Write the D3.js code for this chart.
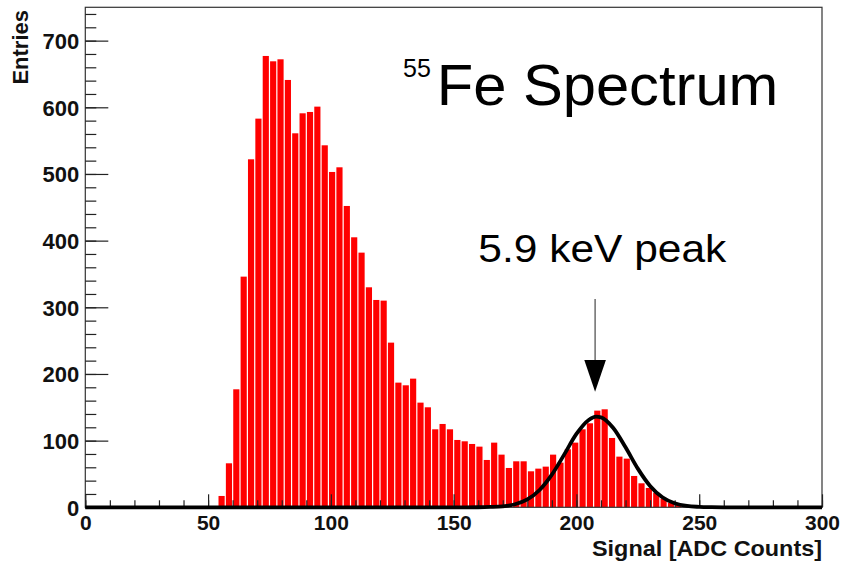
<!DOCTYPE html>
<html>
<head>
<meta charset="utf-8">
<script src="https://cdn.jsdelivr.net/npm/d3@7"></script>
<style>
  body { margin: 0; background: #fff; }
  text { font-family: "Liberation Sans", Arial, Helvetica, sans-serif; }
</style>
</head>
<body>
<script>
// histogram: 3 ADC counts per bin, first filled bin starts at 54
const binWidth = 3;
const firstBin = 54;
const counts = [17, 66, 177, 346, 522, 583, 677, 669, 672, 641, 561, 591, 593, 601, 543, 503,
    510, 452, 405, 382, 330, 311, 310, 247, 187, 183, 193, 157, 150, 117, 125, 117,
    101, 99, 95, 91, 71, 97, 79, 59, 69, 69, 54, 58, 61, 79, 67, 87, 97, 117, 126,
    145, 147, 104, 76, 73, 47, 36, 29, 22, 13, 7, 4, 1];

// gaussian fit
const fitX = [0, 150, 160, 165, 170, 175, 180, 185, 190, 195, 200, 205, 208, 210, 215, 220, 225, 230, 235, 240, 245, 250, 255, 260, 300];
const fitY = [0, 0, 0.1, 0.5, 1.5, 4.6, 11.8, 26, 49, 79, 110, 131, 136, 135, 119, 90, 58, 32, 15, 6, 2, 0.7, 0.2, 0, 0];

const xMajor = [0, 50, 100, 150, 200, 250, 300];
const yMajor = [0, 100, 200, 300, 400, 500, 600, 700];

const width = 844;
const height = 568;

const svg = d3.select("body").append("svg")
    .attr("width", width)
    .attr("height", height);

const x = d3.scaleLinear().domain([0, 300]).range([85.3, 822]);
const y = d3.scaleLinear().domain([0, 750]).range([507.3, 7.3]);

const bins = counts.map((c, i) => ({ lo: firstBin + i * binWidth, n: c }));

// bars
svg.append("g")
    .selectAll("rect")
    .data(bins)
    .enter().append("rect")
    .attr("x", d => x(d.lo) + 0.6)
    .attr("width", x(binWidth) - x(0) - 1.2)
    .attr("y", d => y(d.n))
    .attr("height", d => y(0) - y(d.n))
    .attr("fill", "#ff0000");

// frame
svg.append("rect")
    .attr("x", x(0))
    .attr("y", y(750))
    .attr("width", x(300) - x(0))
    .attr("height", y(0) - y(750))
    .attr("fill", "none")
    .attr("stroke", "#333")
    .attr("stroke-width", 1.2);

// y axis, ticks pointing inward
const yAxis = svg.append("g")
    .attr("transform", `translate(${x(0)},0)`)
    .call(d3.axisLeft(y).tickValues(yMajor).tickSizeInner(-23).tickSizeOuter(0).tickPadding(6));
svg.append("g")
    .attr("transform", `translate(${x(0)},0)`)
    .call(d3.axisLeft(y).tickValues(d3.range(0, 741, 20)).tickSizeInner(-11).tickSizeOuter(0).tickFormat(""));

// x axis
const xAxis = svg.append("g")
    .attr("transform", `translate(0,${y(0)})`)
    .call(d3.axisBottom(x).tickValues(xMajor).tickSizeInner(-13).tickSizeOuter(0).tickPadding(8));
svg.append("g")
    .attr("transform", `translate(0,${y(0)})`)
    .call(d3.axisBottom(x).tickValues(d3.range(0, 301, 10)).tickSizeInner(-7).tickSizeOuter(0).tickFormat(""));

svg.selectAll(".domain").remove();
svg.selectAll(".tick line").attr("stroke", "#222").attr("stroke-width", 1.2);
svg.selectAll(".tick text")
    .attr("font-family", "Liberation Sans, Arial, sans-serif")
    .attr("font-size", 21)
    .attr("font-weight", "bold")
    .attr("fill", "#111");
yAxis.selectAll(".tick text").attr("font-size", 22).attr("dy", "0.36em");

// fit curve
const fit = fitX.map((v, i) => [v, fitY[i]]);
svg.append("path")
    .datum(fit)
    .attr("fill", "none")
    .attr("stroke", "#000")
    .attr("stroke-width", 3.8)
    .attr("d", d3.line().x(d => x(d[0])).y(d => y(d[1])).curve(d3.curveMonotoneX));

// axis titles
svg.append("text")
    .attr("transform", "translate(28.3,10) rotate(-90)")
    .attr("text-anchor", "end")
    .attr("font-size", 22)
    .attr("font-weight", "bold")
    .attr("fill", "#111")
    .text("Entries");

svg.append("text")
    .attr("x", 822)
    .attr("y", 556)
    .attr("text-anchor", "end")
    .attr("font-size", 22)
    .attr("font-weight", "bold")
    .attr("fill", "#111")
    .attr("textLength", 230)
    .attr("lengthAdjust", "spacingAndGlyphs")
    .text("Signal [ADC Counts]");

// title
svg.append("text")
    .attr("x", 403)
    .attr("y", 77)
    .attr("font-size", 25)
    .text("55");
svg.append("text")
    .attr("x", 436.7)
    .attr("y", 105)
    .attr("font-size", 58)
    .attr("textLength", 341.6)
    .attr("lengthAdjust", "spacingAndGlyphs")
    .text("Fe Spectrum");

// peak annotation
svg.append("text")
    .attr("x", 478.3)
    .attr("y", 261.7)
    .attr("font-size", 38)
    .attr("textLength", 248)
    .attr("lengthAdjust", "spacingAndGlyphs")
    .text("5.9 keV peak");

const ax = x(207.6);
svg.append("line")
    .attr("x1", ax).attr("x2", ax)
    .attr("y1", 299).attr("y2", 362)
    .attr("stroke", "#555")
    .attr("stroke-width", 1.3);
svg.append("path")
    .attr("d", `M${ax - 10.8},360 L${ax + 10.8},360 L${ax},391.7 Z`)
    .attr("fill", "#000");
</script>
</body>
</html>
